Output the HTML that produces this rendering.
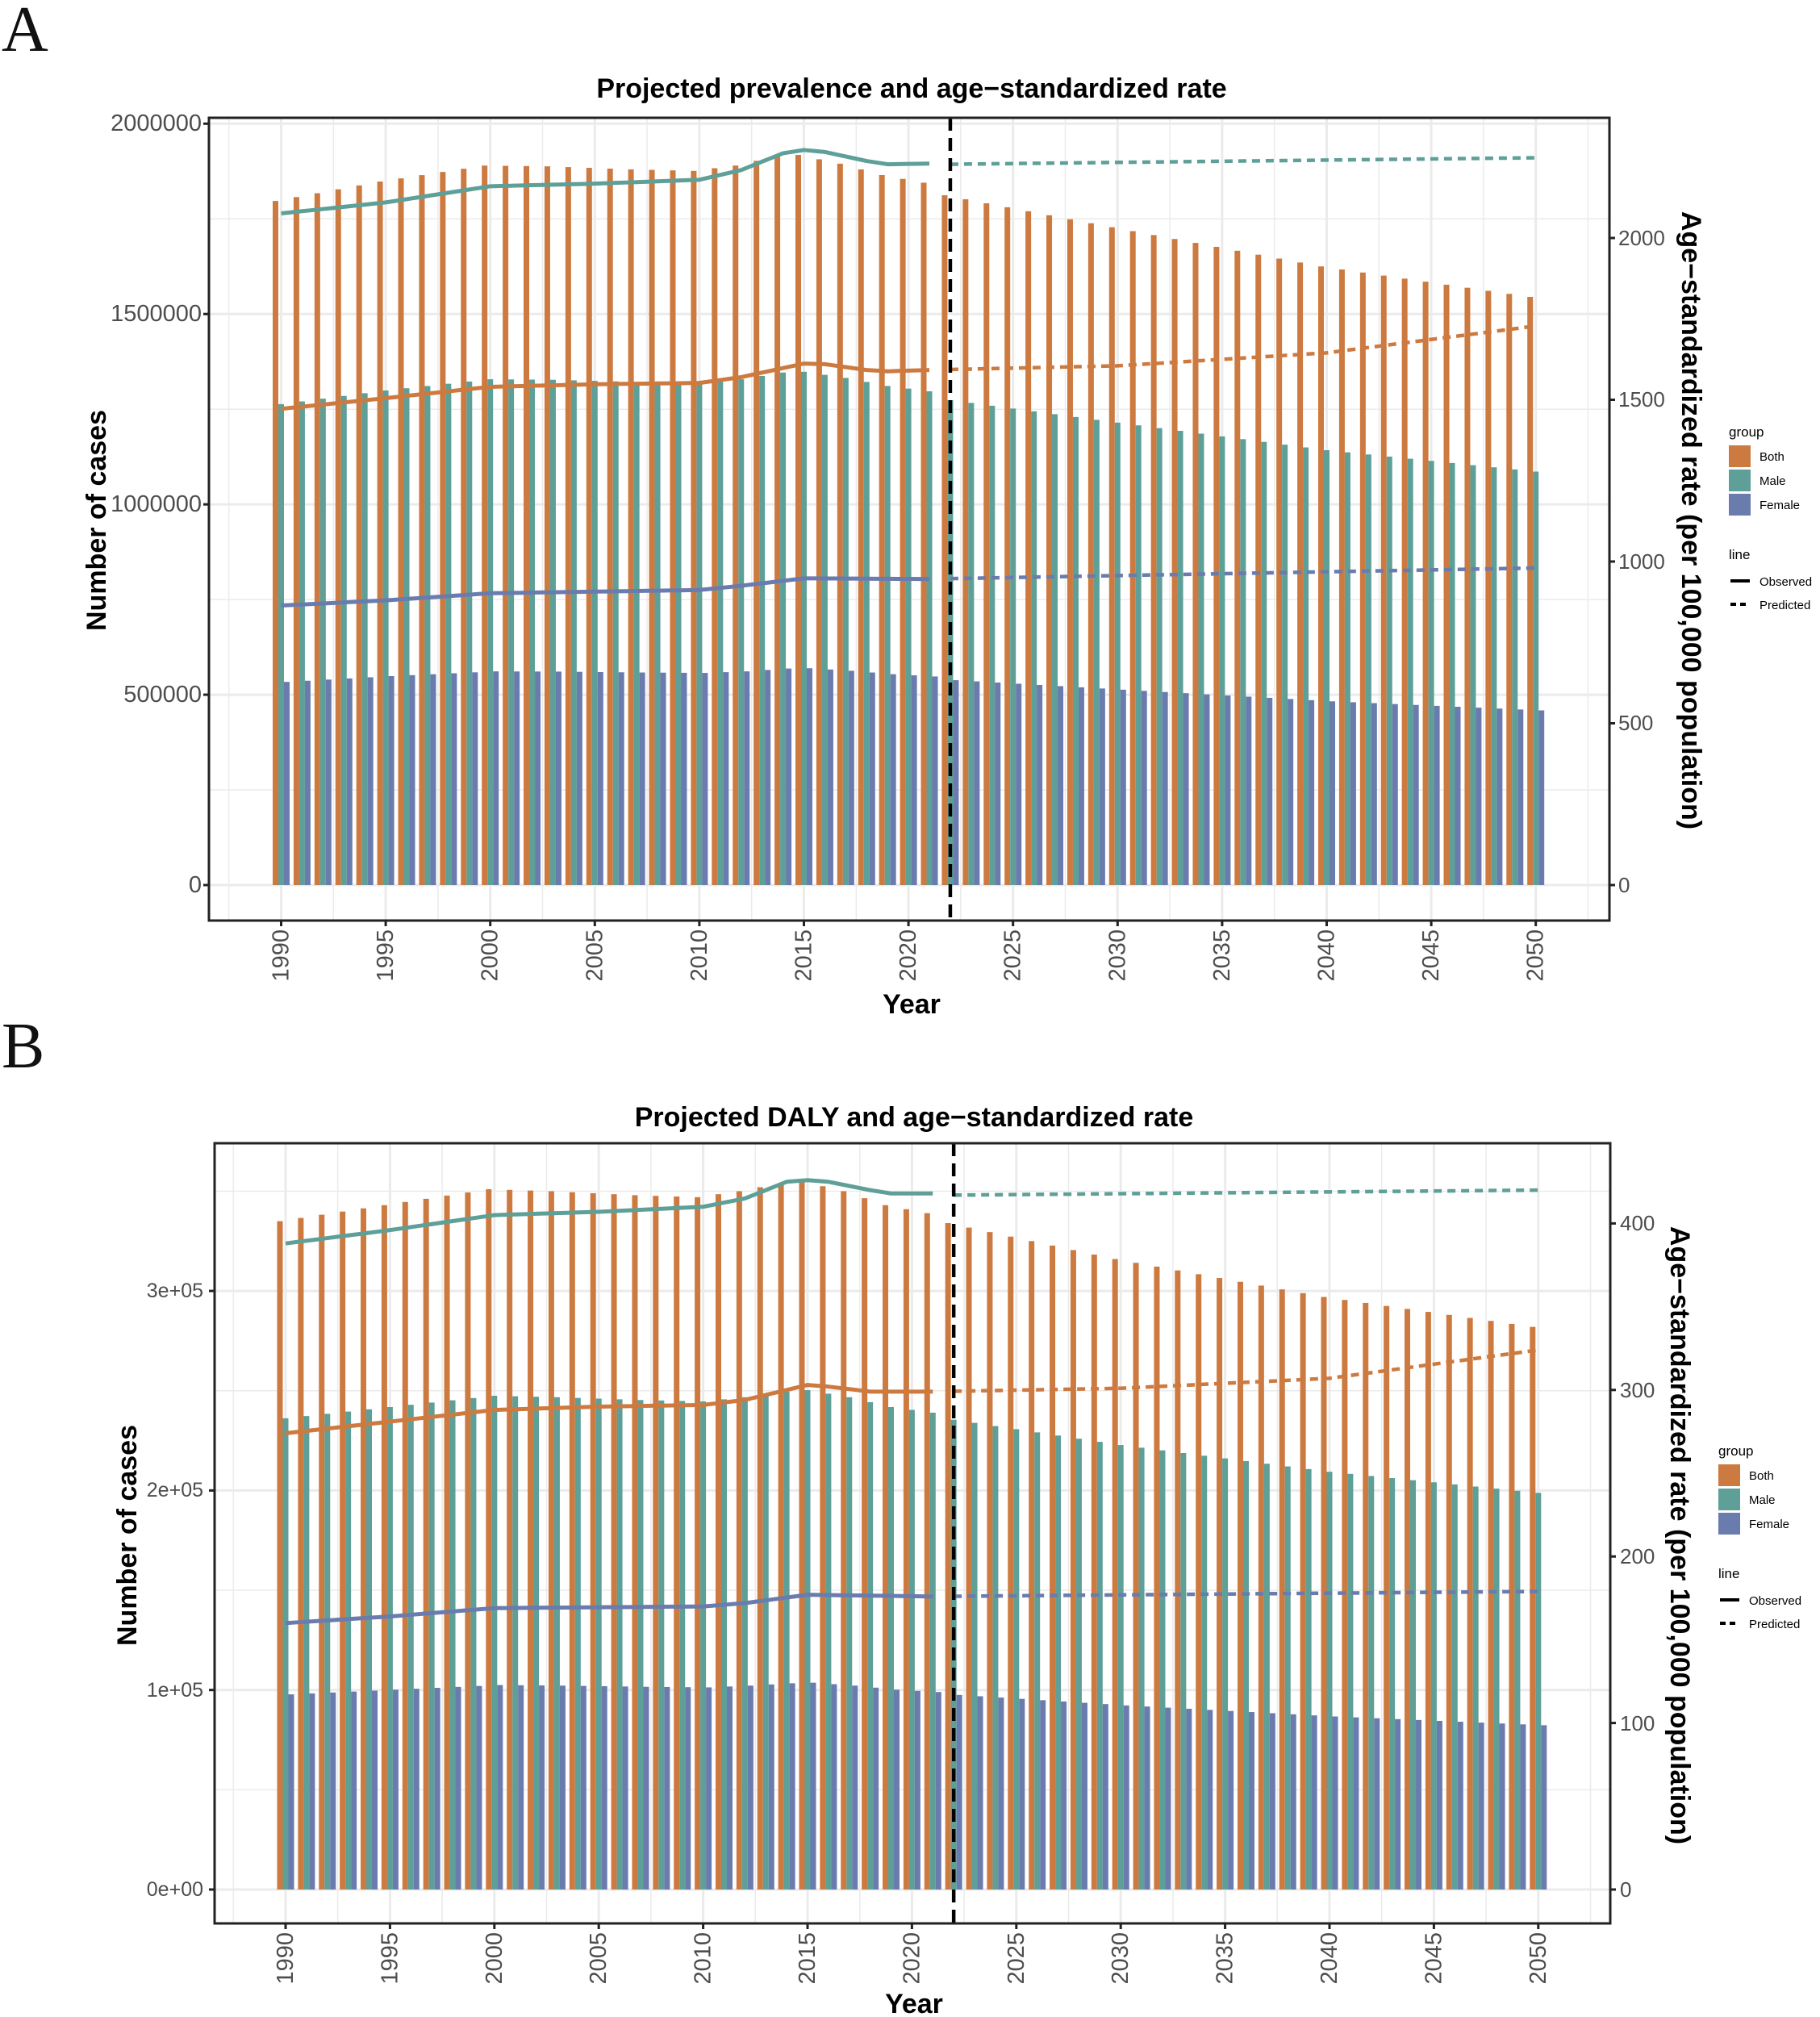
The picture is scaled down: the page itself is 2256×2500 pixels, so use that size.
<!DOCTYPE html>
<html><head><meta charset="utf-8"><style>
html,body{margin:0;padding:0;background:#fff}
svg{display:block}
.tk{font-family:"Liberation Sans",Arial,sans-serif;font-size:29px;fill:#4d4d4d}
.tkr{font-family:"Liberation Sans",Arial,sans-serif;font-size:26px;fill:#4d4d4d}
.tkb{font-family:"Liberation Sans",Arial,sans-serif;font-size:25px;fill:#4d4d4d}
.ttl{font-family:"Liberation Sans",Arial,sans-serif;font-size:34px;font-weight:bold;fill:#000}
.lg{font-family:"Liberation Sans",Arial,sans-serif;font-size:15px;fill:#000}
.lgt{font-family:"Liberation Sans",Arial,sans-serif;font-size:17px;fill:#000}
.big{font-family:"Liberation Serif","DejaVu Serif",serif;font-size:80px;fill:#111}
</style></head><body>
<svg id="s" width="2256" height="2500" viewBox="0 0 2256 2500" xmlns="http://www.w3.org/2000/svg">
<rect width="2256" height="2500" fill="#fff"/>
<g id="gA"></g><g id="gB"></g>
<text class="big" x="2" y="63">A</text>
<text class="big" x="2" y="1323">B</text>
<!-- Panel A text -->
<text class="ttl" x="1130" y="110" text-anchor="middle" dominant-baseline="central">Projected prevalence and age−standardized rate</text>
<text class="ttl" x="1130" y="1245" text-anchor="middle" dominant-baseline="central">Year</text>
<text class="ttl" transform="translate(120,645) rotate(-90)" text-anchor="middle" dominant-baseline="central">Number of cases</text>
<text class="ttl" transform="translate(2096,645) rotate(90)" text-anchor="middle" dominant-baseline="central">Age−standardized rate (per 100,000 population)</text>
<g class="tk" text-anchor="end" dominant-baseline="central">
<text x="250" y="1097">0</text><text x="250" y="861">500000</text><text x="250" y="625">1000000</text><text x="250" y="389">1500000</text><text x="250" y="153">2000000</text>
</g>
<g class="tkr" dominant-baseline="central">
<text x="2006" y="1097">0</text><text x="2006" y="896">500</text><text x="2006" y="696">1000</text><text x="2006" y="495">1500</text><text x="2006" y="295">2000</text>
</g>
<g class="tk" text-anchor="end" dominant-baseline="central">
<text transform="translate(348.5,1152) rotate(-90)">1990</text>
<text transform="translate(478.1,1152) rotate(-90)">1995</text>
<text transform="translate(607.7,1152) rotate(-90)">2000</text>
<text transform="translate(737.3,1152) rotate(-90)">2005</text>
<text transform="translate(866.9,1152) rotate(-90)">2010</text>
<text transform="translate(996.5,1152) rotate(-90)">2015</text>
<text transform="translate(1126.1,1152) rotate(-90)">2020</text>
<text transform="translate(1255.7,1152) rotate(-90)">2025</text>
<text transform="translate(1385.3,1152) rotate(-90)">2030</text>
<text transform="translate(1514.9,1152) rotate(-90)">2035</text>
<text transform="translate(1644.5,1152) rotate(-90)">2040</text>
<text transform="translate(1774.1,1152) rotate(-90)">2045</text>
<text transform="translate(1903.7,1152) rotate(-90)">2050</text>
</g>
<!-- Legend A -->
<g>
<text class="lgt" x="2143" y="541">group</text>
<rect x="2143" y="552" width="27" height="27" fill="#CD7A40"/><text class="lg" x="2181" y="571">Both</text>
<rect x="2143" y="582" width="27" height="27" fill="#5E9F98"/><text class="lg" x="2181" y="601">Male</text>
<rect x="2143" y="612" width="27" height="27" fill="#6A7BAE"/><text class="lg" x="2181" y="631">Female</text>
<text class="lgt" x="2143" y="693">line</text>
<line x1="2145" y1="720" x2="2169" y2="720" stroke="#000" stroke-width="4"/><text class="lg" x="2181" y="726">Observed</text>
<line x1="2145" y1="749" x2="2169" y2="749" stroke="#000" stroke-width="4" stroke-dasharray="7,5"/><text class="lg" x="2181" y="755">Predicted</text>
</g>
<!-- Panel B text -->
<text class="ttl" x="1133" y="1385" text-anchor="middle" dominant-baseline="central">Projected DALY and age−standardized rate</text>
<text class="ttl" x="1133" y="2484" text-anchor="middle" dominant-baseline="central">Year</text>
<text class="ttl" transform="translate(158,1903) rotate(-90)" text-anchor="middle" dominant-baseline="central">Number of cases</text>
<text class="ttl" transform="translate(2082,1903) rotate(90)" text-anchor="middle" dominant-baseline="central">Age−standardized rate (per 100,000 population)</text>
<g class="tkb" text-anchor="end" dominant-baseline="central">
<text x="252" y="2342">0e+00</text><text x="252" y="2095">1e+05</text><text x="252" y="1847">2e+05</text><text x="252" y="1600">3e+05</text>
</g>
<g class="tkr" dominant-baseline="central">
<text x="2008" y="2342">0</text><text x="2008" y="2136">100</text><text x="2008" y="1929">200</text><text x="2008" y="1723">300</text><text x="2008" y="1516">400</text>
</g>
<g class="tk" text-anchor="end" dominant-baseline="central">
<text transform="translate(354,2395) rotate(-90)">1990</text>
<text transform="translate(483.4,2395) rotate(-90)">1995</text>
<text transform="translate(612.8,2395) rotate(-90)">2000</text>
<text transform="translate(742.2,2395) rotate(-90)">2005</text>
<text transform="translate(871.6,2395) rotate(-90)">2010</text>
<text transform="translate(1001,2395) rotate(-90)">2015</text>
<text transform="translate(1130.4,2395) rotate(-90)">2020</text>
<text transform="translate(1259.8,2395) rotate(-90)">2025</text>
<text transform="translate(1389.2,2395) rotate(-90)">2030</text>
<text transform="translate(1518.6,2395) rotate(-90)">2035</text>
<text transform="translate(1648,2395) rotate(-90)">2040</text>
<text transform="translate(1777.4,2395) rotate(-90)">2045</text>
<text transform="translate(1906.8,2395) rotate(-90)">2050</text>
</g>
<g>
<text class="lgt" x="2130" y="1804">group</text>
<rect x="2130" y="1815" width="27" height="27" fill="#CD7A40"/><text class="lg" x="2168" y="1834">Both</text>
<rect x="2130" y="1845" width="27" height="27" fill="#5E9F98"/><text class="lg" x="2168" y="1864">Male</text>
<rect x="2130" y="1875" width="27" height="27" fill="#6A7BAE"/><text class="lg" x="2168" y="1894">Female</text>
<text class="lgt" x="2130" y="1956">line</text>
<line x1="2132" y1="1983" x2="2156" y2="1983" stroke="#000" stroke-width="4"/><text class="lg" x="2168" y="1989">Observed</text>
<line x1="2132" y1="2012" x2="2156" y2="2012" stroke="#000" stroke-width="4" stroke-dasharray="7,5"/><text class="lg" x="2168" y="2018">Predicted</text>
</g>
</svg>
<script>
(function(){
var NS="http://www.w3.org/2000/svg";
function el(g,t,a){var e=document.createElementNS(NS,t);for(var k in a)e.setAttribute(k,a[k]);g.appendChild(e);return e;}
function interp(kp,yr){var ys=Object.keys(kp).map(Number).sort(function(a,b){return a-b});
 if(yr<=ys[0])return kp[ys[0]];for(var i=1;i<ys.length;i++){if(yr<=ys[i]){var a=ys[i-1],b=ys[i];return kp[a]+(kp[b]-kp[a])*(yr-a)/(b-a);}}return kp[ys[ys.length-1]];}
var C=["#CD7A40","#5E9F98","#6A7BAE"];
function panel(g,c){
 var X=function(y){return c.x0+(y-1990)*c.dx};
 for(var yr=1987.5;yr<=2052.5;yr+=2.5){var x=X(yr);if(x<c.L||x>c.R)continue;var maj=(yr%5===0);
  el(g,"line",{x1:x,x2:x,y1:c.T,y2:c.B,stroke:"#ebebeb","stroke-width":maj?3:1.5});}
 c.hmaj.forEach(function(v){var y=c.y0-v*c.ys;el(g,"line",{x1:c.L,x2:c.R,y1:y,y2:y,stroke:"#ebebeb","stroke-width":3});});
 c.hmin.forEach(function(v){var y=c.y0-v*c.ys;el(g,"line",{x1:c.L,x2:c.R,y1:y,y2:y,stroke:"#ebebeb","stroke-width":1.5});});
 for(var yr=1990;yr<=2050;yr++){var xc=X(yr);var b=interp(c.both,yr);var vals=[b,b*c.mr,b*c.fr];
  for(var k=0;k<3;k++){var h=vals[k]*c.ys;el(g,"rect",{x:xc-10.5+k*7,y:c.y0-h,width:7,height:h,fill:C[k]});}}
 [["both",0],["male",1],["fem",2]].forEach(function(p){var kp=c.rate[p[0]];
  var s="",d="";for(var yr=1990;yr<=2021;yr+=0.5){s+=X(yr)+","+(c.y0-interp(kp,yr)*c.rs)+" ";}
  for(var yr=2022;yr<=2050;yr+=1){d+=X(yr)+","+(c.y0-interp(kp,yr)*c.rs)+" ";}
  el(g,"polyline",{points:s,fill:"none",stroke:C[p[1]],"stroke-width":5,"stroke-linejoin":"round"});
  el(g,"polyline",{points:d,fill:"none",stroke:C[p[1]],"stroke-width":4.5,"stroke-dasharray":"10,7"});});
 var xv=X(2022);el(g,"line",{x1:xv,x2:xv,y1:c.T,y2:c.B,stroke:"#000","stroke-width":4.5,"stroke-dasharray":"16,9"});
 el(g,"rect",{x:c.L,y:c.T,width:c.R-c.L,height:c.B-c.T,fill:"none",stroke:"#222","stroke-width":3});
 c.hmaj.forEach(function(v){var y=c.y0-v*c.ys;el(g,"line",{x1:c.L-7,x2:c.L,y1:y,y2:y,stroke:"#222","stroke-width":3});});
 c.rt.forEach(function(v){var y=c.y0-v*c.rs;el(g,"line",{x1:c.R,x2:c.R+7,y1:y,y2:y,stroke:"#222","stroke-width":3});});
 for(var yr=1990;yr<=2050;yr+=5){var x=X(yr);el(g,"line",{x1:x,x2:x,y1:c.B,y2:c.B+7,stroke:"#222","stroke-width":3});}
}
panel(document.getElementById("gA"),{L:259,R:1995,T:146,B:1141,x0:348.5,dx:25.92,y0:1097,ys:0.00047185,rs:0.401,
 hmaj:[0,500000,1000000,1500000,2000000],hmin:[250000,750000,1250000,1750000],rt:[0,500,1000,1500,2000],
 both:{1990:1797000,1995:1848000,2000:1890000,2003:1888000,2007:1880000,2010:1876000,2012:1890000,2014:1915000,2015:1918000,2017:1895000,2019:1865000,2021:1845000,2022:1812000,2030:1728000,2040:1625000,2050:1545000},
 mr:0.703,fr:0.297,
 rate:{male:{1990:2076,1995:2110,2000:2160,2005:2168,2010:2180,2012:2210,2014:2262,2015:2272,2016:2266,2018:2238,2019:2228,2021:2230,2022:2228,2050:2248},
  both:{1990:1472,1995:1505,2000:1540,2005:1548,2010:1552,2012:1570,2015:1612,2016:1610,2018:1592,2019:1588,2021:1592,2030:1605,2040:1645,2050:1728},
  fem:{1990:864,1995:880,2000:902,2010:912,2012:925,2015:948,2021:946,2050:980}}});
panel(document.getElementById("gB"),{L:266,R:1996,T:1417,B:2384,x0:354,dx:25.88,y0:2342,ys:0.002473,rs:2.064,
 hmaj:[0,100000,200000,300000],hmin:[50000,150000,250000,350000],rt:[0,100,200,300,400],
 both:{1990:335000,1995:343000,2000:351000,2003:350000,2007:348000,2010:347000,2012:350000,2014:354000,2015:355000,2017:350000,2019:343000,2021:339000,2022:334000,2030:316000,2040:297000,2050:282000},
 mr:0.705,fr:0.292,
 rate:{male:{1990:388,1995:396,2000:405,2005:407,2010:410,2012:415,2014:425,2015:426,2016:425,2018:420,2019:418,2021:418,2022:417,2050:420},
  both:{1990:274,1995:281,2000:288,2005:290,2010:291,2012:294,2015:303,2016:302,2018:299,2021:299,2030:301,2040:307,2050:324},
  fem:{1990:160,1995:164,2000:169,2010:170,2012:172,2015:177,2021:176,2050:179}}});
})();
</script>
</body></html>
